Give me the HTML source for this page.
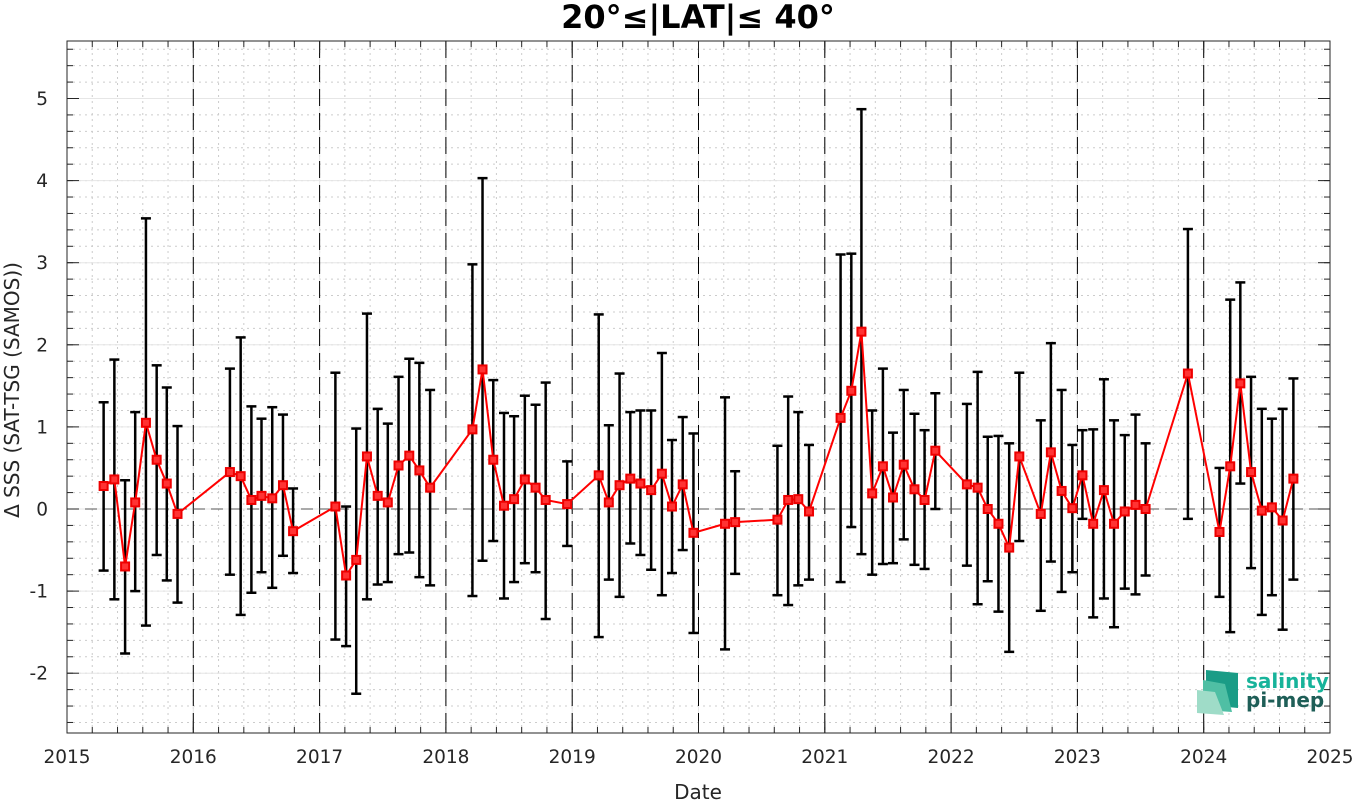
<!DOCTYPE html>
<html><head><meta charset="utf-8"><style>
body{margin:0;background:#fff;width:1355px;height:801px;overflow:hidden;font-family:"Liberation Sans",sans-serif}
svg text{font-family:"DejaVu Sans","Liberation Sans",sans-serif}
</style></head><body>
<svg id="chart" width="1355" height="801" xmlns="http://www.w3.org/2000/svg"></svg>
<script>
const dates=[2015.29,2015.375,2015.46,2015.54,2015.625,2015.71,2015.79,2015.875,
2016.29,2016.375,2016.46,2016.54,2016.625,2016.71,2016.79,
2017.125,2017.21,2017.29,2017.375,2017.46,2017.54,2017.625,2017.71,2017.79,2017.875,
2018.21,2018.29,2018.375,2018.46,2018.54,2018.625,2018.71,2018.79,2018.96,
2019.21,2019.29,2019.375,2019.46,2019.54,2019.625,2019.71,2019.79,2019.875,2019.96,
2020.21,2020.29,2020.625,2020.71,2020.79,2020.875,
2021.125,2021.21,2021.29,2021.375,2021.46,2021.54,2021.625,2021.71,2021.79,2021.875,
2022.125,2022.21,2022.29,2022.375,2022.46,2022.54,2022.71,2022.79,2022.875,2022.96,
2023.04,2023.125,2023.21,2023.29,2023.375,2023.46,2023.54,2023.875,
2024.125,2024.21,2024.29,2024.375,2024.46,2024.54,2024.625,2024.71];
const means=[0.28,0.36,-0.70,0.08,1.05,0.60,0.31,-0.06,
0.45,0.40,0.11,0.16,0.13,0.29,-0.27,
0.03,-0.81,-0.62,0.64,0.16,0.08,0.53,0.65,0.47,0.26,
0.97,1.70,0.60,0.04,0.12,0.36,0.26,0.11,0.06,
0.41,0.08,0.29,0.37,0.31,0.23,0.43,0.03,0.30,-0.29,
-0.18,-0.16,-0.13,0.11,0.12,-0.03,
1.11,1.44,2.16,0.19,0.52,0.14,0.54,0.24,0.11,0.71,
0.30,0.26,0.00,-0.18,-0.47,0.64,-0.06,0.69,0.22,0.01,
0.41,-0.18,0.23,-0.18,-0.03,0.05,0.00,1.65,
-0.28,0.52,1.53,0.45,-0.02,0.02,-0.14,0.37];
const upper=[1.30,1.82,0.35,1.18,3.54,1.75,1.48,1.01,
1.71,2.09,1.25,1.10,1.24,1.15,0.25,
1.66,0.03,0.98,2.38,1.22,1.04,1.61,1.83,1.78,1.45,
2.98,4.03,1.57,1.17,1.13,1.38,1.27,1.54,0.58,
2.37,1.02,1.65,1.18,1.20,1.20,1.90,0.84,1.12,0.92,
1.36,0.46,0.77,1.37,1.18,0.78,
3.10,3.11,4.87,1.20,1.71,0.93,1.45,1.16,0.96,1.41,
1.28,1.67,0.88,0.89,0.80,1.66,1.08,2.02,1.45,0.78,
0.96,0.97,1.58,1.08,0.90,1.15,0.80,3.41,
0.50,2.55,2.76,1.61,1.22,1.10,1.22,1.59];
const lower=[-0.75,-1.10,-1.76,-1.00,-1.42,-0.56,-0.87,-1.14,
-0.80,-1.29,-1.02,-0.77,-0.96,-0.57,-0.78,
-1.59,-1.67,-2.25,-1.10,-0.92,-0.89,-0.55,-0.53,-0.83,-0.93,
-1.06,-0.63,-0.39,-1.09,-0.89,-0.66,-0.77,-1.34,-0.45,
-1.56,-0.86,-1.07,-0.42,-0.56,-0.74,-1.05,-0.78,-0.50,-1.51,
-1.71,-0.79,-1.05,-1.17,-0.93,-0.86,
-0.89,-0.22,-0.55,-0.80,-0.67,-0.66,-0.37,-0.68,-0.73,0.00,
-0.69,-1.16,-0.88,-1.25,-1.74,-0.39,-1.24,-0.64,-1.01,-0.77,
-0.12,-1.32,-1.09,-1.44,-0.97,-1.04,-0.81,-0.12,
-1.07,-1.50,0.31,-0.72,-1.29,-1.05,-1.47,-0.86];
const xTicks=[2015,2016,2017,2018,2019,2020,2021,2022,2023,2024,2025];
const yTicks=[-2,-1,0,1,2,3,4,5];

const L=67,R=1330,T=41,B=733;
const X=v=>L+(v-2015)/10*(R-L);
const Y=v=>509-v*82.1;
const yMin=(509-B)/82.1, yMax=(509-T)/82.1;
const svg=document.getElementById('chart');
const NS='http://www.w3.org/2000/svg';
function mk(tag,attrs,parent){const e=document.createElementNS(NS,tag);for(const k in attrs)e.setAttribute(k,attrs[k]);(parent||svg).appendChild(e);return e;}

const grid=mk('g',{});


for(let v=Math.ceil(yMin*5)/5;v<=yMax;v+=0.2){const y=Y(v);mk('line',{x1:L,x2:R,y1:y,y2:y,stroke:'#ccc','stroke-width':1,'stroke-dasharray':'2,4'},grid);}
for(let v=2015.2;v<2025;v+=0.2){const x=X(v);mk('line',{x1:x,x2:x,y1:T,y2:B,stroke:'#ccc','stroke-width':1,'stroke-dasharray':'2,4'},grid);}
yTicks.forEach(v=>mk('line',{x1:L,x2:R,y1:Y(v),y2:Y(v),stroke:'#e6e6e6','stroke-width':1},grid));
xTicks.forEach(v=>mk('line',{x1:X(v),x2:X(v),y1:T,y2:B,stroke:'#e6e6e6','stroke-width':1},grid));
xTicks.slice(1,-1).forEach(v=>{const l=mk('line',{x1:X(v),x2:X(v),y1:T,y2:B,stroke:'#000','stroke-width':1,'stroke-dasharray':'17,7'});

});
const zl=mk('line',{x1:L,x2:R,y1:Y(0),y2:Y(0),stroke:'#555','stroke-width':1,'stroke-dasharray':'12,6'});



const ax=mk('g',{});


mk('rect',{x:L,y:T,width:R-L,height:B-T,fill:'none',stroke:'#262626','stroke-width':1},ax);
xTicks.forEach(v=>{const x=X(v);mk('line',{x1:x,x2:x,y1:B,y2:B-12,stroke:'#262626'},ax);mk('line',{x1:x,x2:x,y1:T,y2:T+12,stroke:'#262626'},ax);
const t=mk('text',{x:x,y:B+30,'text-anchor':'middle','font-size':18.5,fill:'#262626'},ax);t.textContent=v;

});
for(let v=2015.2;v<2025;v+=0.2){const x=X(v);mk('line',{x1:x,x2:x,y1:B,y2:B-6,stroke:'#262626'},ax);mk('line',{x1:x,x2:x,y1:T,y2:T+6,stroke:'#262626'},ax);}
yTicks.forEach(v=>{const y=Y(v);mk('line',{x1:L,x2:L+12,y1:y,y2:y,stroke:'#262626'},ax);mk('line',{x1:R,x2:R-12,y1:y,y2:y,stroke:'#262626'},ax);
const t=mk('text',{x:L-19,y:y+6.5,'text-anchor':'end','font-size':18.5,fill:'#262626'},ax);t.textContent=v;

});
for(let v=Math.ceil(yMin*5)/5;v<=yMax;v+=0.2){const y=Y(v);mk('line',{x1:L,x2:L+6,y1:y,y2:y,stroke:'#262626'},ax);mk('line',{x1:R,x2:R-6,y1:y,y2:y,stroke:'#262626'},ax);}

const eb=mk('g',{});


dates.forEach((d,i)=>{const x=X(d);
mk('line',{x1:x,x2:x,y1:Y(upper[i]),y2:Y(lower[i]),stroke:'#000','stroke-width':2.5},eb);
mk('line',{x1:x-5,x2:x+5,y1:Y(upper[i]),y2:Y(upper[i]),stroke:'#000','stroke-width':2.5},eb);
mk('line',{x1:x-5,x2:x+5,y1:Y(lower[i]),y2:Y(lower[i]),stroke:'#000','stroke-width':2.5},eb);});
const pl=mk('polyline',{points:dates.map((d,i)=>X(d)+','+Y(means[i])).join(' '),fill:'none',stroke:'#f00','stroke-width':2});


dates.forEach((d,i)=>{const r=mk('rect',{x:X(d)-4,y:Y(means[i])-4,width:8,height:8,fill:'#f33',stroke:'#e00','stroke-width':2});

});

let t=mk('text',{x:698,y:28,'text-anchor':'middle','font-size':32,'font-weight':'bold',fill:'#000'});t.textContent='20°≤|LAT|≤ 40°';


t=mk('text',{x:698,y:799,'text-anchor':'middle','font-size':20,fill:'#262626'});t.textContent='Date';


t=mk('text',{x:0,y:0,'text-anchor':'middle','font-size':20,fill:'#262626',transform:'translate(19,390) rotate(-90)'});t.textContent='Δ SSS (SAT-TSG (SAMOS))';



const lg=mk('g',{});


mk('polygon',{points:'1206,670 1238,673 1238,708 1206,705',fill:'#1a9c86'},lg);
mk('polygon',{points:'1203,680 1225,684 1232,712 1203,710',fill:'#4fbfa4'},lg);
mk('polygon',{points:'1197,690 1215,692 1224,715 1197,713',fill:'#9fdcc8'},lg);
t=mk('text',{x:1246,y:688,'font-size':20,'font-weight':'bold',fill:'#17b39a'},lg);t.textContent='salinity';
t=mk('text',{x:1246,y:707,'font-size':20,'font-weight':'bold',fill:'#1e5e57'},lg);t.textContent='pi-mep';
</script>
</body></html>
